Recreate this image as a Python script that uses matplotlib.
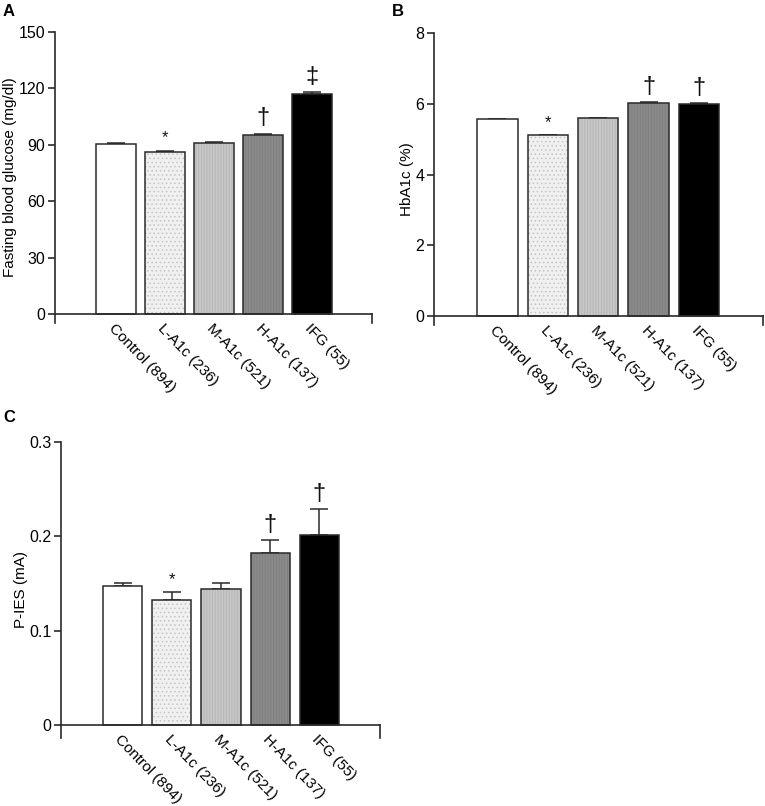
import matplotlib
matplotlib.use("Agg")
import matplotlib.pyplot as plt

plt.rcParams['font.family'] = ['Liberation Sans', 'DejaVu Sans']

# Données
groups = ["Control (894)", "L-A1c (236)", "M-A1c (521)", "H-A1c (137)", "IFG (55)"]

fbg_mean = [90.4, 86.4, 91.0, 95.3, 116.9]
fbg_err = [0.4, 0.5, 0.5, 0.6, 1.0]
fbg_marks = ["", "*", "", "†", "‡"]

hba1c_mean = [5.56, 5.11, 5.60, 6.02, 5.98]
hba1c_err = [0.01, 0.01, 0.01, 0.02, 0.04]
hba1c_marks = ["", "*", "", "†", "†"]

pies_mean = [0.147, 0.133, 0.144, 0.182, 0.201]
pies_err = [0.004, 0.008, 0.006, 0.014, 0.028]
pies_marks = ["", "*", "", "†", "†"]

# Style des barres
faces = ["white", "#f0f0f0", "#c6c6c6", "#8a8a8a", "black"]
hatches = [None, "....", "||||||", "||||||", None]
hatch_cols = ["white", "#c4c4c4", "#b6b6b6", "#7e7e7e", "black"]
edge = "#2a2a2a"

W, H = 765, 806
fig = plt.figure(figsize=(W / 100, H / 100), dpi=100)
plt.rcParams['hatch.linewidth'] = 0.6


def px_axes(left, right, top, bottom):
    return fig.add_axes([left / W, 1 - bottom / H, (right - left) / W, (bottom - top) / H])


def panel(ax, means, errs, marks, ylim, yticks, ylabel, xlim, tick_fmt):
    x = list(range(len(means)))
    for i in x:
        ax.bar(i, means[i], width=0.8, color=faces[i], hatch=hatches[i],
               edgecolor=hatch_cols[i], linewidth=0, zorder=2)
        ax.bar(i, means[i], width=0.8, fill=False, edgecolor=edge, linewidth=1.1, zorder=3)
    ax.errorbar(x, means, yerr=[[0] * len(errs), errs], fmt="none", ecolor=edge,
                elinewidth=1.1, capsize=6.5, capthick=1.1, zorder=1)
    for i in x:
        if marks[i]:
            top = means[i] + errs[i]
            size = 12 if marks[i] == "*" else 17
            off = 9 if marks[i] == "*" else 11
            ax.annotate(marks[i], (i, top), xytext=(0, off), textcoords="offset points",
                        ha="center", va="center", fontsize=size, color="#111111")
    ax.set_xlim(*xlim)
    ax.set_ylim(*ylim)
    ax.set_yticks(yticks)
    ax.set_yticklabels([tick_fmt(v) for v in yticks], fontsize=11.5)
    ax.set_ylabel(ylabel, fontsize=11, labelpad=1)
    for s in ["top", "right"]:
        ax.spines[s].set_visible(False)
    ax.spines["bottom"].set_position(("data", 0))
    ax.spines["left"].set_bounds(ylim[0], ylim[1])
    for s in ["left", "bottom"]:
        ax.spines[s].set_color(edge)
        ax.spines[s].set_linewidth(1.2)
    ax.tick_params(axis="y", direction="out", length=5, width=1.2, color=edge, pad=2)
    ax.set_xticks(x)
    ax.set_xticklabels(groups, rotation=-46, ha="left", va="top",
                       rotation_mode="anchor", fontsize=11)
    ax.tick_params(axis="x", length=0, pad=5)
    # petit trait vertical au bout de l'axe x (style Prism)
    ax.plot([xlim[1], xlim[1]], [ylim[0], 0], color=edge, lw=1.2, clip_on=False)


axA = px_axes(55, 372, 32, 323)
panel(axA, fbg_mean, fbg_err, fbg_marks, (-4.8, 150), [0, 30, 60, 90, 120, 150],
      "Fasting blood glucose (mg/dl)", (-1.245, 5.224), lambda v: f"{v:g}")

axB = px_axes(434, 763, 33, 325)
panel(axB, hba1c_mean, hba1c_err, hba1c_marks, (-0.254, 8), [0, 2, 4, 6, 8],
      "HbA1c (%)", (-1.26, 5.27), lambda v: f"{v:g}")

axC = px_axes(61, 380, 442, 738)
panel(axC, pies_mean, pies_err, pies_marks, (-0.0138, 0.3), [0, 0.1, 0.2, 0.3],
      "P-IES (mA)", (-1.25, 5.23), lambda v: "0" if v == 0 else f"{v:.1f}")

fig.text(3 / W, 1 - 12 / H, "A", fontsize=12, fontweight="bold", va="center")
fig.text(392 / W, 1 - 12 / H, "B", fontsize=12, fontweight="bold", va="center")
fig.text(3 / W, 1 - 418 / H, "C", fontsize=12, fontweight="bold", va="center")

fig.savefig("out.png", dpi=100)
